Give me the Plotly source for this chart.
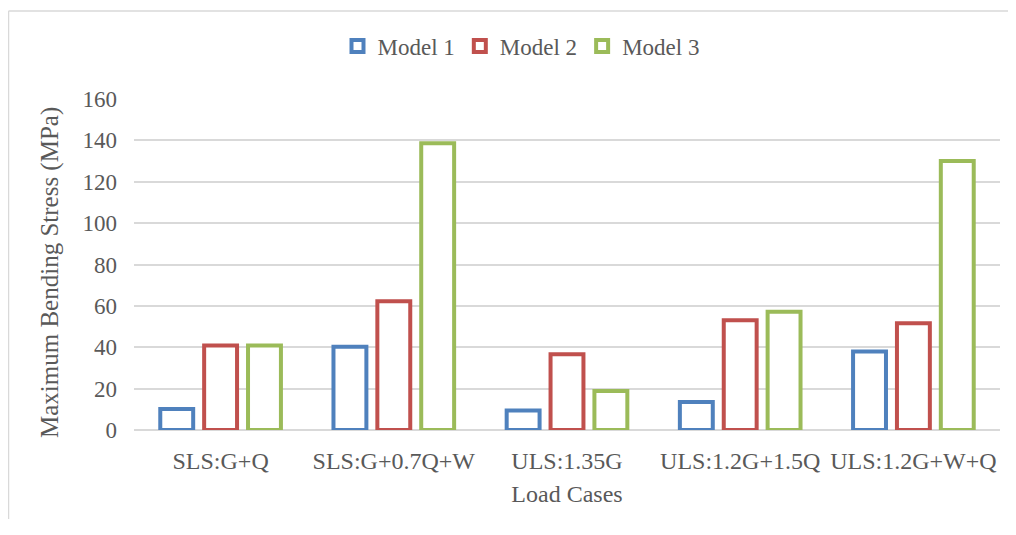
import plotly.graph_objects as go

categories = ["SLS:G+Q", "SLS:G+0.7Q+W", "ULS:1.35G", "ULS:1.2G+1.5Q", "ULS:1.2G+W+Q"]
model1 = [10.1, 40.2, 9.4, 13.5, 37.9]
model2 = [40.8, 62.2, 36.6, 53.1, 51.6]
model3 = [40.8, 138.6, 18.8, 57.2, 130.0]
series_names = ["Model 1", "Model 2", "Model 3"]
series_colors = ["#4F81BD", "#C0504D", "#9BBB59"]
y_ticks = [0, 20, 40, 60, 80, 100, 120, 140, 160]

font_family = "Liberation Serif, Times New Roman, serif"
text_color = "#595959"

# page body has an 8px margin; keep the figure inside the viewport (no scrollbars)
OFF = 8
W, H = 1016 - 2 * OFF, 535 - 2 * OFF - 8
L = 134 - OFF
R = W - (1000 - OFF)
T = 99 - OFF
B = H - (430 - OFF)
pw = W - L - R
ph = H - T - B

def px_to_paper_x(px):
    return (px - OFF - L) / pw

def py_to_paper_y(py):
    return (H - B - (py - OFF)) / ph

fig = go.Figure()
for name, vals, col in zip(series_names, [model1, model2, model3], series_colors):
    fig.add_trace(go.Bar(
        x=categories, y=vals, name=name,
        marker=dict(color="white", line=dict(color=col, width=4)),
    ))

frame = dict(color="#D9D9D9", width=1.5)
fig.add_shape(type="line", xref="paper", yref="paper",
              x0=px_to_paper_x(8.5), x1=px_to_paper_x(8.5),
              y0=py_to_paper_y(600), y1=py_to_paper_y(11), line=frame, layer="below")
fig.add_shape(type="line", xref="paper", yref="paper",
              x0=px_to_paper_x(8.5), x1=px_to_paper_x(1100),
              y0=py_to_paper_y(11), y1=py_to_paper_y(11), line=frame, layer="below")

fig.add_annotation(text="Maximum Bending Stress (MPa)", textangle=-90,
                   xref="paper", yref="paper", x=px_to_paper_x(50), y=py_to_paper_y(273),
                   xanchor="center", yanchor="middle", showarrow=False,
                   font=dict(size=25, color=text_color, family=font_family))

fig.update_layout(
    width=W, height=H,
    margin=dict(l=L, r=R, t=T, b=B),
    paper_bgcolor="white", plot_bgcolor="white",
    barmode="group", bargap=0.24, bargroupgap=0.25,
    font=dict(family=font_family, size=23, color=text_color),
    legend=dict(orientation="h", x=px_to_paper_x(521), xanchor="center", y=py_to_paper_y(46), yanchor="middle",
                font=dict(size=23, color=text_color), itemwidth=30, tracegroupgap=0),
    xaxis=dict(title=dict(text="Load Cases", font=dict(size=24, color=text_color), standoff=12),
               tickfont=dict(size=24, color=text_color), showgrid=False, tickangle=0,
               showline=False, ticks="", ticklabelstandoff=14),
    yaxis=dict(range=[0, 160], tickvals=y_ticks, tickfont=dict(size=23, color=text_color),
               showgrid=True, gridcolor="#D9D9D9", gridwidth=1.5,
               zeroline=True, zerolinecolor="#D9D9D9", zerolinewidth=1.5,
               showline=False, ticks="", ticklabelstandoff=16),
)

fig.write_html("out.html")
